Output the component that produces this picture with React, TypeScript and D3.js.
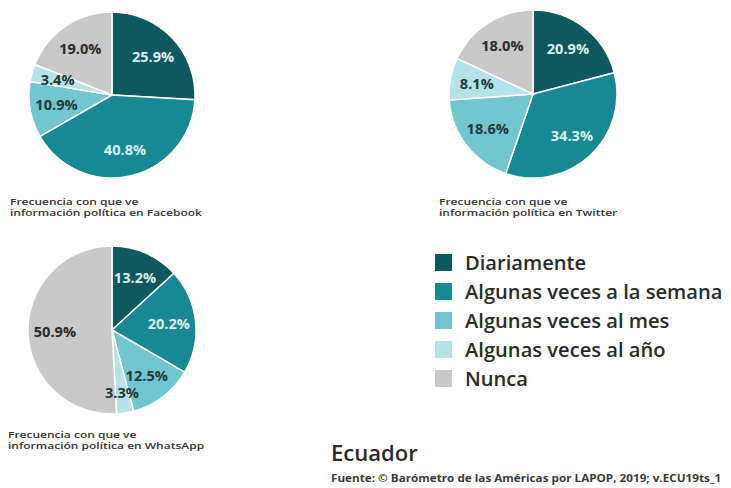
import React from "react";
import * as d3 from "d3";

const categories = [
  "Diariamente",
  "Algunas veces a la semana",
  "Algunas veces al mes",
  "Algunas veces al año",
  "Nunca",
];
const facebookValues = [25.9, 40.8, 10.9, 3.4, 19.0];
const twitterValues = [20.9, 34.3, 18.6, 8.1, 18.0];
const whatsappValues = [13.2, 20.2, 12.5, 3.3, 50.9];
const captionLine1 = "Frecuencia con que ve";
const captionFacebook = "información política en Facebook";
const captionTwitter = "información política en Twitter";
const captionWhatsApp = "información política en WhatsApp";
const countryTitle = "Ecuador";
const sourceText = "Fuente: © Barómetro de las Américas por LAPOP, 2019; v.ECU19ts_1";

const colors = ["#0e5860", "#188892", "#72c6d0", "#b6e3e8", "#c9c9c9"];
const labelColors = ["#d9eef0", "#d9eef0", "#22383b", "#22383b", "#2a2a2a"];
const FONT = "'Open Sans', 'Noto Sans', sans-serif";

type PieProps = { values: number[]; cx: number; cy: number; r: number };

function Pie({ values, cx, cy, r }: PieProps) {
  const pie = d3.pie<number>().sort(null).value((d) => d);
  const arcs = pie(values);
  const arc = d3.arc<d3.PieArcDatum<number>>().innerRadius(0).outerRadius(r);
  const baseR = r * 0.68;
  const pos = arcs.map((a) => {
    const ang = (a.startAngle + a.endAngle) / 2;
    return { ang, rr: baseR };
  });
  const xy = (p: { ang: number; rr: number }) => [Math.sin(p.ang) * p.rr, -Math.cos(p.ang) * p.rr];
  // push small-slice labels outward if they collide with a neighbour
  for (let iter = 0; iter < 20; iter++) {
    let moved = false;
    for (let i = 0; i < pos.length; i++) {
      for (let j = 0; j < pos.length; j++) {
        if (i === j) continue;
        const [xi, yi] = xy(pos[i]);
        const [xj, yj] = xy(pos[j]);
        if (Math.abs(xi - xj) < 38 && Math.abs(yi - yj) < 15 && values[i] < values[j]) {
          pos[i].rr += 2;
          moved = true;
        }
      }
    }
    if (!moved) break;
  }
  return (
    <g transform={`translate(${cx},${cy})`}>
      {arcs.map((a, i) => (
        <path key={i} d={arc(a) || ""} fill={colors[i]} stroke="#ffffff" strokeWidth={1.5} />
      ))}
      {arcs.map((a, i) => {
        const [x, y] = xy(pos[i]);
        return (
          <text
            key={"t" + i}
            transform={`translate(${x},${y}) scale(1.08,1)`}
            textAnchor="middle"
            dominantBaseline="central"
            fontFamily={FONT}
            fontWeight={700}
            fontSize={13.5}
            fill={labelColors[i]}
          >
            {values[i].toFixed(1)}%
          </text>
        );
      })}
    </g>
  );
}

function Caption({ x, y, line2 }: { x: number; y: number; line2: string }) {
  return (
    <g transform={`translate(${x},${y}) scale(1.25,1)`}>
      <text x={0} y={0} fontFamily={FONT} fontSize={9.6} fill="#333" fontWeight={600}>
        {captionLine1}
      </text>
      <text x={0} y={10.5} fontFamily={FONT} fontSize={9.6} fill="#333" fontWeight={600}>
        {line2}
      </text>
    </g>
  );
}

export default function App() {
  const legendY = d3.scaleBand<number>().domain(d3.range(categories.length)).range([248, 393]);
  return (
    <svg
      width={731}
      height={488}
      style={{ position: "absolute", left: 0, top: 0, background: "#ffffff" }}
    >
      <rect width={731} height={488} fill="#ffffff" />
      <Pie values={facebookValues} cx={112} cy={95} r={83} />
      <Pie values={twitterValues} cx={533} cy={94} r={84} />
      <Pie values={whatsappValues} cx={112} cy={330} r={84} />
      <Caption x={10} y={205} line2={captionFacebook} />
      <Caption x={439} y={205} line2={captionTwitter} />
      <Caption x={8} y={438} line2={captionWhatsApp} />
      {categories.map((c, i) => {
        const y = (legendY(i) || 0) + legendY.bandwidth() / 2;
        return (
          <g key={c}>
            <rect x={435} y={y - 8.5} width={17} height={17} fill={colors[i]} />
            <text
              transform={`translate(465,${y}) scale(1.06,1)`}
              dominantBaseline="central"
              fontFamily={FONT}
              fontSize={19}
              fontWeight={600}
              fill="#2a2a2a"
            >
              {c}
            </text>
          </g>
        );
      })}
      <text
        transform="translate(331,461) scale(1.05,1)"
        fontFamily={FONT}
        fontSize={21}
        fontWeight={600}
        fill="#2a2a2a"
      >
        {countryTitle}
      </text>
      <text
        transform="translate(331,482) scale(1.105,1)"
        fontFamily={FONT}
        fontSize={10.6}
        fontWeight={700}
        fill="#3a3a3a"
      >
        {sourceText}
      </text>
    </svg>
  );
}
